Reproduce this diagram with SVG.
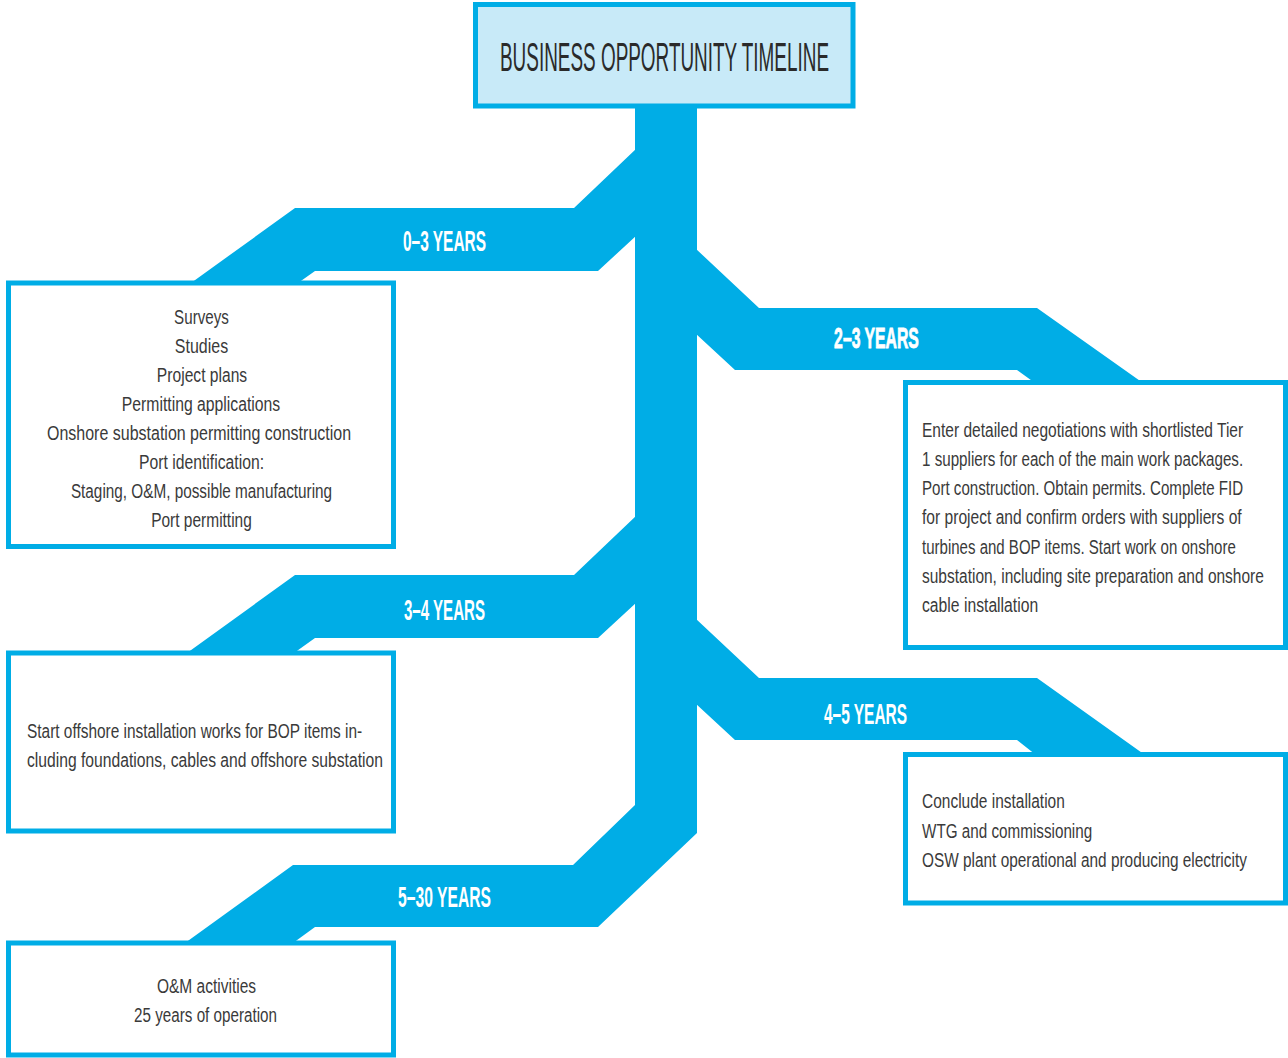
<svg xmlns="http://www.w3.org/2000/svg" width="1288" height="1058" viewBox="0 0 1288 1058">
<style>
.band{fill:#00ade6}
.box{fill:#fff;stroke:#00ade6;stroke-width:5}
.title{fill:#c8eaf8;stroke:#00ade6;stroke-width:5}
.t{font-family:"Liberation Sans",Arial,sans-serif;font-size:21px;fill:#3a3a3a}
.c{text-anchor:middle}
.lab{font-family:"Liberation Sans",Arial,sans-serif;font-size:29px;font-weight:bold;fill:#fff;text-anchor:middle}
.tt{font-family:"Liberation Sans",Arial,sans-serif;font-size:40px;fill:#2a2a2a;text-anchor:middle}
</style>
<rect width="1288" height="1058" fill="#fff"/>
<g id="connectors">
  <polygon class="band" points="635,100 697,100 697,833 598,927 315,927 293,943 185,943 293,865 573,865 635,805"/>
  <polygon class="band" points="637,148 574,208 295,208 191,283 298,283 315,271 598,271 637,235"/>
  <polygon class="band" points="637,515 574,575 295,575 187,653 294,653 315,638 598,638 637,602"/>
  <polygon class="band" points="695,248 759,308 1037,308 1143,383 1035,383 1017,370 735,370 695,333"/>
  <polygon class="band" points="695,618 759,678 1037,678 1145,755 1036,755 1017,740 735,740 695,703"/>
  <text class="lab" transform="matrix(0.52,0,0,1,444.5,251)" textLength="160" lengthAdjust="spacingAndGlyphs">0–3 YEARS</text>
  <text class="lab" transform="matrix(0.52,0,0,1,876.5,348)" textLength="163" lengthAdjust="spacingAndGlyphs" stroke="#fff" stroke-width="0.8">2–3 YEARS</text>
  <text class="lab" transform="matrix(0.52,0,0,1,444.5,620)" textLength="156" lengthAdjust="spacingAndGlyphs">3–4 YEARS</text>
  <text class="lab" transform="matrix(0.52,0,0,1,865.5,724)" textLength="160" lengthAdjust="spacingAndGlyphs">4–5 YEARS</text>
  <text class="lab" transform="matrix(0.52,0,0,1,444.5,907)" textLength="179" lengthAdjust="spacingAndGlyphs">5–30 YEARS</text>
</g>
<g id="title">
  <rect class="title" x="475.5" y="4.5" width="377.5" height="101.5"/>
  <text class="tt" transform="matrix(0.47,0,0,1,664.5,71)" textLength="700" lengthAdjust="spacingAndGlyphs">BUSINESS OPPORTUNITY TIMELINE</text>
</g>
<g id="box-0-3">
  <rect class="box" x="8.5" y="283" width="385" height="263.5"/>
  <text class="t c" transform="matrix(0.74,0,0,1,201.5,324)" textLength="74" lengthAdjust="spacingAndGlyphs">Surveys</text>
  <text class="t c" transform="matrix(0.74,0,0,1,201.5,353)" textLength="72" lengthAdjust="spacingAndGlyphs">Studies</text>
  <text class="t c" transform="matrix(0.74,0,0,1,202,382)" textLength="122" lengthAdjust="spacingAndGlyphs">Project plans</text>
  <text class="t c" transform="matrix(0.74,0,0,1,201,411)" textLength="214" lengthAdjust="spacingAndGlyphs">Permitting applications</text>
  <text class="t c" transform="matrix(0.74,0,0,1,199,440)" textLength="411" lengthAdjust="spacingAndGlyphs">Onshore substation permitting construction</text>
  <text class="t c" transform="matrix(0.74,0,0,1,201.5,469)" textLength="169" lengthAdjust="spacingAndGlyphs">Port identification:</text>
  <text class="t c" transform="matrix(0.74,0,0,1,201.5,498)" textLength="353" lengthAdjust="spacingAndGlyphs">Staging, O&amp;M, possible manufacturing</text>
  <text class="t c" transform="matrix(0.74,0,0,1,201.5,527)" textLength="136" lengthAdjust="spacingAndGlyphs">Port permitting</text>
</g>
<g id="box-2-3">
  <rect class="box" x="905.5" y="382.5" width="380" height="265"/>
  <text class="t" transform="matrix(0.74,0,0,1,922,437)" textLength="434" lengthAdjust="spacingAndGlyphs">Enter detailed negotiations with shortlisted Tier</text>
  <text class="t" transform="matrix(0.74,0,0,1,922,466)" textLength="434" lengthAdjust="spacingAndGlyphs">1 suppliers for each of the main work packages.</text>
  <text class="t" transform="matrix(0.74,0,0,1,922,495)" textLength="434" lengthAdjust="spacingAndGlyphs">Port construction. Obtain permits. Complete FID</text>
  <text class="t" transform="matrix(0.74,0,0,1,922,524)" textLength="432" lengthAdjust="spacingAndGlyphs">for project and confirm orders with suppliers of</text>
  <text class="t" transform="matrix(0.74,0,0,1,922,554)" textLength="424" lengthAdjust="spacingAndGlyphs">turbines and BOP items. Start work on onshore</text>
  <text class="t" transform="matrix(0.74,0,0,1,922,583)" textLength="462" lengthAdjust="spacingAndGlyphs">substation, including site preparation and onshore</text>
  <text class="t" transform="matrix(0.74,0,0,1,922,612)" textLength="157" lengthAdjust="spacingAndGlyphs">cable installation</text>
</g>
<g id="box-3-4">
  <rect class="box" x="8.5" y="653" width="385" height="178"/>
  <text class="t" transform="matrix(0.74,0,0,1,27,738)" textLength="453" lengthAdjust="spacingAndGlyphs">Start offshore installation works for BOP items in-</text>
  <text class="t" transform="matrix(0.74,0,0,1,27,767)" textLength="481" lengthAdjust="spacingAndGlyphs">cluding foundations, cables and offshore substation</text>
</g>
<g id="box-4-5">
  <rect class="box" x="905.5" y="754.5" width="380" height="148.5"/>
  <text class="t" transform="matrix(0.74,0,0,1,922,808)" textLength="193" lengthAdjust="spacingAndGlyphs">Conclude installation</text>
  <text class="t" transform="matrix(0.74,0,0,1,922,838)" textLength="230" lengthAdjust="spacingAndGlyphs">WTG and commissioning</text>
  <text class="t" transform="matrix(0.74,0,0,1,922,867)" textLength="439" lengthAdjust="spacingAndGlyphs">OSW plant operational and producing electricity</text>
</g>
<g id="box-5-30">
  <rect class="box" x="8.5" y="943" width="385" height="112"/>
  <text class="t c" transform="matrix(0.74,0,0,1,206.5,993)" textLength="134" lengthAdjust="spacingAndGlyphs">O&amp;M activities</text>
  <text class="t c" transform="matrix(0.74,0,0,1,205.5,1022)" textLength="193" lengthAdjust="spacingAndGlyphs">25 years of operation</text>
</g>
</svg>
